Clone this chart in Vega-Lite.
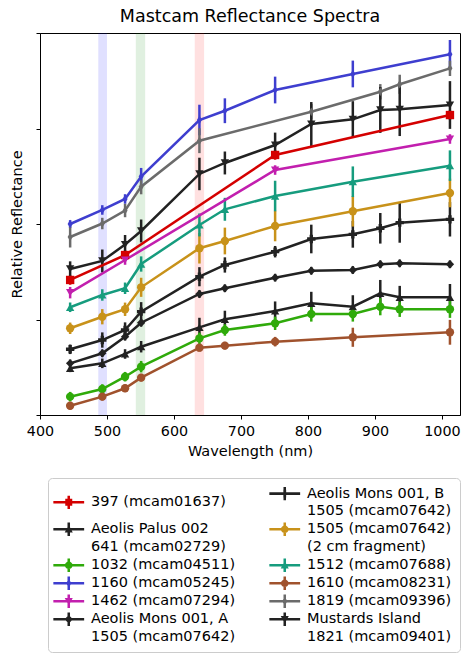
{
  "$schema": "https://vega.github.io/schema/vega-lite/v6.json",
  "autosize": {"type": "none"},
  "padding": {"left": 40, "top": 33, "right": 2, "bottom": 245},
  "width": 420,
  "height": 382,
  "background": "#ffffff",
  "title": {"text": "Mastcam Reflectance Spectra", "fontSize": 17.5, "font": "DejaVu Sans", "fontWeight": "normal", "color": "#000", "anchor": "middle", "offset": 7},
  "datasets": {
    "bands": [
      {"b": "B", "lo": 487, "hi": 500},
      {"b": "G", "lo": 543, "hi": 557},
      {"b": "R", "lo": 631, "hi": 645}
    ],
    "spec": [
      {"s": "397 (mcam01637)", "w": 445, "r": 0.1414, "e": 0.005},
      {"s": "397 (mcam01637)", "w": 527, "r": 0.1675, "e": 0.005},
      {"s": "397 (mcam01637)", "w": 751, "r": 0.2723, "e": 0.005},
      {"s": "397 (mcam01637)", "w": 1012, "r": 0.3141, "e": 0.005},

      {"s": "Aeolis Palus 002\n641 (mcam02729)", "w": 445, "r": 0.0489, "e": 0.004},
      {"s": "Aeolis Palus 002\n641 (mcam02729)", "w": 493, "r": 0.0541, "e": 0.005},
      {"s": "Aeolis Palus 002\n641 (mcam02729)", "w": 527, "r": 0.0639, "e": 0.005},
      {"s": "Aeolis Palus 002\n641 (mcam02729)", "w": 551, "r": 0.0715, "e": 0.006},
      {"s": "Aeolis Palus 002\n641 (mcam02729)", "w": 638, "r": 0.0918, "e": 0.010},
      {"s": "Aeolis Palus 002\n641 (mcam02729)", "w": 676, "r": 0.1002, "e": 0.009},
      {"s": "Aeolis Palus 002\n641 (mcam02729)", "w": 751, "r": 0.1089, "e": 0.010},
      {"s": "Aeolis Palus 002\n641 (mcam02729)", "w": 805, "r": 0.1170, "e": 0.012},
      {"s": "Aeolis Palus 002\n641 (mcam02729)", "w": 867, "r": 0.1134, "e": 0.012},
      {"s": "Aeolis Palus 002\n641 (mcam02729)", "w": 908, "r": 0.1274, "e": 0.014},
      {"s": "Aeolis Palus 002\n641 (mcam02729)", "w": 937, "r": 0.1232, "e": 0.012},
      {"s": "Aeolis Palus 002\n641 (mcam02729)", "w": 1012, "r": 0.1232, "e": 0.014},

      {"s": "1032 (mcam04511)", "w": 445, "r": 0.0192, "e": 0.005},
      {"s": "1032 (mcam04511)", "w": 493, "r": 0.0272, "e": 0.005},
      {"s": "1032 (mcam04511)", "w": 527, "r": 0.0401, "e": 0.005},
      {"s": "1032 (mcam04511)", "w": 551, "r": 0.0506, "e": 0.006},
      {"s": "1032 (mcam04511)", "w": 638, "r": 0.0803, "e": 0.006},
      {"s": "1032 (mcam04511)", "w": 676, "r": 0.0890, "e": 0.006},
      {"s": "1032 (mcam04511)", "w": 751, "r": 0.0960, "e": 0.007},
      {"s": "1032 (mcam04511)", "w": 805, "r": 0.1058, "e": 0.008},
      {"s": "1032 (mcam04511)", "w": 867, "r": 0.1058, "e": 0.008},
      {"s": "1032 (mcam04511)", "w": 908, "r": 0.1134, "e": 0.009},
      {"s": "1032 (mcam04511)", "w": 937, "r": 0.1107, "e": 0.008},
      {"s": "1032 (mcam04511)", "w": 1012, "r": 0.1107, "e": 0.009},

      {"s": "1160 (mcam05245)", "w": 445, "r": 0.2000, "e": 0.004},
      {"s": "1160 (mcam05245)", "w": 493, "r": 0.2147, "e": 0.005},
      {"s": "1160 (mcam05245)", "w": 527, "r": 0.2262, "e": 0.005},
      {"s": "1160 (mcam05245)", "w": 551, "r": 0.2497, "e": 0.009},
      {"s": "1160 (mcam05245)", "w": 638, "r": 0.3089, "e": 0.016},
      {"s": "1160 (mcam05245)", "w": 676, "r": 0.3186, "e": 0.013},
      {"s": "1160 (mcam05245)", "w": 751, "r": 0.3403, "e": 0.014},
      {"s": "1160 (mcam05245)", "w": 867, "r": 0.3571, "e": 0.014},
      {"s": "1160 (mcam05245)", "w": 1012, "r": 0.3777, "e": 0.015},

      {"s": "1462 (mcam07294)", "w": 445, "r": 0.1281, "e": 0.006},
      {"s": "1462 (mcam07294)", "w": 527, "r": 0.1623, "e": 0.005},
      {"s": "1462 (mcam07294)", "w": 751, "r": 0.2565, "e": 0.005},
      {"s": "1462 (mcam07294)", "w": 1012, "r": 0.2890, "e": 0.005},

      {"s": "Aeolis Mons 001, A\n1505 (mcam07642)", "w": 445, "r": 0.0541, "e": 0.004},
      {"s": "Aeolis Mons 001, A\n1505 (mcam07642)", "w": 493, "r": 0.0646, "e": 0.004},
      {"s": "Aeolis Mons 001, A\n1505 (mcam07642)", "w": 527, "r": 0.0820, "e": 0.004},
      {"s": "Aeolis Mons 001, A\n1505 (mcam07642)", "w": 551, "r": 0.0966, "e": 0.004},
      {"s": "Aeolis Mons 001, A\n1505 (mcam07642)", "w": 638, "r": 0.1267, "e": 0.004},
      {"s": "Aeolis Mons 001, A\n1505 (mcam07642)", "w": 676, "r": 0.1327, "e": 0.004},
      {"s": "Aeolis Mons 001, A\n1505 (mcam07642)", "w": 751, "r": 0.1438, "e": 0.004},
      {"s": "Aeolis Mons 001, A\n1505 (mcam07642)", "w": 805, "r": 0.1511, "e": 0.004},
      {"s": "Aeolis Mons 001, A\n1505 (mcam07642)", "w": 867, "r": 0.1518, "e": 0.004},
      {"s": "Aeolis Mons 001, A\n1505 (mcam07642)", "w": 908, "r": 0.1578, "e": 0.004},
      {"s": "Aeolis Mons 001, A\n1505 (mcam07642)", "w": 937, "r": 0.1588, "e": 0.004},
      {"s": "Aeolis Mons 001, A\n1505 (mcam07642)", "w": 1012, "r": 0.1578, "e": 0.004},

      {"s": "Aeolis Mons 001, B\n1505 (mcam07642)", "w": 445, "r": 0.0688, "e": 0.005},
      {"s": "Aeolis Mons 001, B\n1505 (mcam07642)", "w": 493, "r": 0.0785, "e": 0.008},
      {"s": "Aeolis Mons 001, B\n1505 (mcam07642)", "w": 527, "r": 0.0890, "e": 0.008},
      {"s": "Aeolis Mons 001, B\n1505 (mcam07642)", "w": 551, "r": 0.1082, "e": 0.010},
      {"s": "Aeolis Mons 001, B\n1505 (mcam07642)", "w": 638, "r": 0.1448, "e": 0.010},
      {"s": "Aeolis Mons 001, B\n1505 (mcam07642)", "w": 676, "r": 0.1571, "e": 0.008},
      {"s": "Aeolis Mons 001, B\n1505 (mcam07642)", "w": 751, "r": 0.1710, "e": 0.006},
      {"s": "Aeolis Mons 001, B\n1505 (mcam07642)", "w": 805, "r": 0.1843, "e": 0.015},
      {"s": "Aeolis Mons 001, B\n1505 (mcam07642)", "w": 867, "r": 0.1892, "e": 0.014},
      {"s": "Aeolis Mons 001, B\n1505 (mcam07642)", "w": 908, "r": 0.1955, "e": 0.016},
      {"s": "Aeolis Mons 001, B\n1505 (mcam07642)", "w": 937, "r": 0.2014, "e": 0.021},
      {"s": "Aeolis Mons 001, B\n1505 (mcam07642)", "w": 1012, "r": 0.2049, "e": 0.018},

      {"s": "1505 (mcam07642)\n(2 cm fragment)", "w": 445, "r": 0.0908, "e": 0.006},
      {"s": "1505 (mcam07642)\n(2 cm fragment)", "w": 493, "r": 0.1029, "e": 0.008},
      {"s": "1505 (mcam07642)\n(2 cm fragment)", "w": 527, "r": 0.1107, "e": 0.007},
      {"s": "1505 (mcam07642)\n(2 cm fragment)", "w": 551, "r": 0.1337, "e": 0.010},
      {"s": "1505 (mcam07642)\n(2 cm fragment)", "w": 638, "r": 0.1746, "e": 0.016},
      {"s": "1505 (mcam07642)\n(2 cm fragment)", "w": 676, "r": 0.1822, "e": 0.014},
      {"s": "1505 (mcam07642)\n(2 cm fragment)", "w": 751, "r": 0.1979, "e": 0.016},
      {"s": "1505 (mcam07642)\n(2 cm fragment)", "w": 867, "r": 0.2133, "e": 0.016},
      {"s": "1505 (mcam07642)\n(2 cm fragment)", "w": 1012, "r": 0.2325, "e": 0.015},

      {"s": "1512 (mcam07688)", "w": 445, "r": 0.1128, "e": 0.005},
      {"s": "1512 (mcam07688)", "w": 493, "r": 0.1257, "e": 0.006},
      {"s": "1512 (mcam07688)", "w": 527, "r": 0.1327, "e": 0.006},
      {"s": "1512 (mcam07688)", "w": 551, "r": 0.1581, "e": 0.008},
      {"s": "1512 (mcam07688)", "w": 638, "r": 0.1990, "e": 0.012},
      {"s": "1512 (mcam07688)", "w": 676, "r": 0.2154, "e": 0.012},
      {"s": "1512 (mcam07688)", "w": 751, "r": 0.2293, "e": 0.016},
      {"s": "1512 (mcam07688)", "w": 867, "r": 0.2443, "e": 0.016},
      {"s": "1512 (mcam07688)", "w": 1012, "r": 0.2611, "e": 0.016},

      {"s": "1610 (mcam08231)", "w": 445, "r": 0.0097, "e": 0.004},
      {"s": "1610 (mcam08231)", "w": 493, "r": 0.0192, "e": 0.004},
      {"s": "1610 (mcam08231)", "w": 527, "r": 0.0280, "e": 0.004},
      {"s": "1610 (mcam08231)", "w": 551, "r": 0.0391, "e": 0.004},
      {"s": "1610 (mcam08231)", "w": 638, "r": 0.0705, "e": 0.004},
      {"s": "1610 (mcam08231)", "w": 676, "r": 0.0726, "e": 0.004},
      {"s": "1610 (mcam08231)", "w": 751, "r": 0.0768, "e": 0.005},
      {"s": "1610 (mcam08231)", "w": 867, "r": 0.0814, "e": 0.010},
      {"s": "1610 (mcam08231)", "w": 1012, "r": 0.0866, "e": 0.013},

      {"s": "1819 (mcam09396)", "w": 445, "r": 0.1864, "e": 0.011},
      {"s": "1819 (mcam09396)", "w": 493, "r": 0.2005, "e": 0.006},
      {"s": "1819 (mcam09396)", "w": 527, "r": 0.2141, "e": 0.007},
      {"s": "1819 (mcam09396)", "w": 551, "r": 0.2391, "e": 0.008},
      {"s": "1819 (mcam09396)", "w": 638, "r": 0.2872, "e": 0.013},
      {"s": "1819 (mcam09396)", "w": 805, "r": 0.3176, "e": 0.008},
      {"s": "1819 (mcam09396)", "w": 908, "r": 0.3385, "e": 0.008},
      {"s": "1819 (mcam09396)", "w": 937, "r": 0.3463, "e": 0.010},
      {"s": "1819 (mcam09396)", "w": 1012, "r": 0.3630, "e": 0.008},

      {"s": "Mustards Island\n1821 (mcam09401)", "w": 445, "r": 0.1529, "e": 0.008},
      {"s": "Mustards Island\n1821 (mcam09401)", "w": 493, "r": 0.1613, "e": 0.012},
      {"s": "Mustards Island\n1821 (mcam09401)", "w": 527, "r": 0.1785, "e": 0.010},
      {"s": "Mustards Island\n1821 (mcam09401)", "w": 551, "r": 0.1927, "e": 0.012},
      {"s": "Mustards Island\n1821 (mcam09401)", "w": 638, "r": 0.2524, "e": 0.017},
      {"s": "Mustards Island\n1821 (mcam09401)", "w": 676, "r": 0.2639, "e": 0.012},
      {"s": "Mustards Island\n1821 (mcam09401)", "w": 751, "r": 0.2827, "e": 0.013},
      {"s": "Mustards Island\n1821 (mcam09401)", "w": 805, "r": 0.3047, "e": 0.023},
      {"s": "Mustards Island\n1821 (mcam09401)", "w": 867, "r": 0.3096, "e": 0.019},
      {"s": "Mustards Island\n1821 (mcam09401)", "w": 908, "r": 0.3194, "e": 0.024},
      {"s": "Mustards Island\n1821 (mcam09401)", "w": 937, "r": 0.3201, "e": 0.028},
      {"s": "Mustards Island\n1821 (mcam09401)", "w": 1012, "r": 0.3246, "e": 0.025}
    ]
  },
  "layer": [
    {
      "data": {"name": "bands"},
      "transform": [{"filter": "datum.b == 'B'"}],
      "mark": {"type": "rect", "color": "#0000ff", "opacity": 0.12},
      "encoding": {
        "x": {"field": "lo", "type": "quantitative", "title": "Wavelength (nm)", "scale": {"domain": [400, 1027], "nice": false, "zero": false}, "axis": {"values": [400, 500, 600, 700, 800, 900, 1000], "format": "d", "labelFlush": false, "title": "Wavelength (nm)", "titlePadding": 6, "labelPadding": 5}},
        "x2": {"field": "hi"}
      }
    },
    {
      "data": {"name": "bands"},
      "transform": [{"filter": "datum.b == 'G'"}],
      "mark": {"type": "rect", "color": "#008000", "opacity": 0.12},
      "encoding": {
        "x": {"field": "lo", "type": "quantitative", "title": "Wavelength (nm)", "scale": {"domain": [400, 1027], "nice": false, "zero": false}, "axis": {"values": [400, 500, 600, 700, 800, 900, 1000], "format": "d", "labelFlush": false, "title": "Wavelength (nm)", "titlePadding": 6, "labelPadding": 5}},
        "x2": {"field": "hi"}
      }
    },
    {
      "data": {"name": "bands"},
      "transform": [{"filter": "datum.b == 'R'"}],
      "mark": {"type": "rect", "color": "#ff0000", "opacity": 0.12},
      "encoding": {
        "x": {"field": "lo", "type": "quantitative", "title": "Wavelength (nm)", "scale": {"domain": [400, 1027], "nice": false, "zero": false}, "axis": {"values": [400, 500, 600, 700, 800, 900, 1000], "format": "d", "labelFlush": false, "title": "Wavelength (nm)", "titlePadding": 6, "labelPadding": 5}},
        "x2": {"field": "hi"}
      }
    },
    {
      "data": {"name": "spec"},
      "encoding": {
        "x": {"field": "w", "type": "quantitative", "title": "Wavelength (nm)", "scale": {"domain": [400, 1027], "nice": false, "zero": false}, "axis": {"values": [400, 500, 600, 700, 800, 900, 1000], "format": "d", "labelFlush": false, "title": "Wavelength (nm)", "titlePadding": 6, "labelPadding": 5}},
        "y": {"field": "r", "type": "quantitative", "title": "Relative Reflectance", "scale": {"domain": [0, 0.4], "nice": false}, "axis": {"values": [0, 0.1, 0.2, 0.3, 0.4], "labels": false, "title": "Relative Reflectance", "titlePadding": 11}},
        "color": {
          "field": "s", "type": "nominal", "title": null,
          "legend": null,
          "scale": {
            "domain": ["397 (mcam01637)", "Aeolis Palus 002\n641 (mcam02729)", "1032 (mcam04511)", "1160 (mcam05245)", "1462 (mcam07294)", "Aeolis Mons 001, A\n1505 (mcam07642)", "Aeolis Mons 001, B\n1505 (mcam07642)", "1505 (mcam07642)\n(2 cm fragment)", "1512 (mcam07688)", "1610 (mcam08231)", "1819 (mcam09396)", "Mustards Island\n1821 (mcam09401)"],
            "range": ["#d40000", "#222222", "#2faa0a", "#3e3ecf", "#c21fae", "#222222", "#222222", "#c8921a", "#169c7e", "#a0522d", "#6b6b6b", "#222222"]
          }
        }
      },
      "layer": [
        {
          "mark": {"type": "errorbar", "thickness": 2.5},
          "encoding": {"yError": {"field": "e"}}
        },
        {
          "mark": {"type": "line", "strokeWidth": 2.5}
        },
        {
          "mark": {"type": "point", "filled": true, "opacity": 1, "size": 70},
          "encoding": {
            "shape": {
              "field": "s", "type": "nominal", "title": null,
              "legend": null,
              "scale": {
                "domain": ["397 (mcam01637)", "Aeolis Palus 002\n641 (mcam02729)", "1032 (mcam04511)", "1160 (mcam05245)", "1462 (mcam07294)", "Aeolis Mons 001, A\n1505 (mcam07642)", "Aeolis Mons 001, B\n1505 (mcam07642)", "1505 (mcam07642)\n(2 cm fragment)", "1512 (mcam07688)", "1610 (mcam08231)", "1819 (mcam09396)", "Mustards Island\n1821 (mcam09401)"],
                "range": ["square", "triangle-up", "circle", "M0,-1L0.6,0L0,1L-0.6,0Z", "triangle-down", "diamond", "cross", "circle", "triangle-up", "circle", "M0,-1L0.6,0L0,1L-0.6,0Z", "triangle-down"]
              }
            }
          }
        },
        {
          "transform": [{"filter": "datum.w < 0"}],
          "mark": {"type": "point", "filled": true, "opacity": 1, "size": 49},
          "encoding": {
            "fill": {
              "field": "s", "type": "nominal", "title": null,
              "legend": {
                "labelExpr": "split(datum.label, '\\n')", "columns": 2, "orient": "none", "legendX": 8, "legendY": 445,
                "encode": {"labels": {"update": {"lineHeight": {"value": 17.5}}}}
              },
              "scale": {
                "domain": ["397 (mcam01637)", "Aeolis Palus 002\n641 (mcam02729)", "1032 (mcam04511)", "1160 (mcam05245)", "1462 (mcam07294)", "Aeolis Mons 001, A\n1505 (mcam07642)", "Aeolis Mons 001, B\n1505 (mcam07642)", "1505 (mcam07642)\n(2 cm fragment)", "1512 (mcam07688)", "1610 (mcam08231)", "1819 (mcam09396)", "Mustards Island\n1821 (mcam09401)"],
                "range": ["#d40000", "#222222", "#2faa0a", "#3e3ecf", "#c21fae", "#222222", "#222222", "#c8921a", "#169c7e", "#a0522d", "#6b6b6b", "#222222"]
              }
            },
            "shape": {
              "field": "s", "type": "nominal", "title": null,
              "legend": {
                "labelExpr": "split(datum.label, '\\n')", "columns": 2, "orient": "none", "legendX": 8, "legendY": 445,
                "encode": {"labels": {"update": {"lineHeight": {"value": 17.5}}}}
              },
              "scale": {
                "domain": ["397 (mcam01637)", "Aeolis Palus 002\n641 (mcam02729)", "1032 (mcam04511)", "1160 (mcam05245)", "1462 (mcam07294)", "Aeolis Mons 001, A\n1505 (mcam07642)", "Aeolis Mons 001, B\n1505 (mcam07642)", "1505 (mcam07642)\n(2 cm fragment)", "1512 (mcam07688)", "1610 (mcam08231)", "1819 (mcam09396)", "Mustards Island\n1821 (mcam09401)"],
                "range": [
                  "M-4.4,-0.36H4.4V0.36H-4.4ZM-0.36,-1.9H0.36V1.9H-0.36ZM-1,-1H1V1H-1Z",
                  "M-4.4,-0.36H4.4V0.36H-4.4ZM-0.36,-1.9H0.36V1.9H-0.36ZM0,-1.2L1.15,0.9L-1.15,0.9Z",
                  "M-4.4,-0.36H4.4V0.36H-4.4ZM-0.36,-1.9H0.36V1.9H-0.36ZM-1.1,0A1.1,1.1,0,1,1,1.1,0A1.1,1.1,0,1,1,-1.1,0Z",
                  "M-4.4,-0.36H4.4V0.36H-4.4ZM-0.36,-1.9H0.36V1.9H-0.36ZM0,-1.3L0.75,0L0,1.3L-0.75,0Z",
                  "M-4.4,-0.36H4.4V0.36H-4.4ZM-0.36,-1.9H0.36V1.9H-0.36ZM-1.15,-0.9L1.15,-0.9L0,1.2Z",
                  "M-4.4,-0.36H4.4V0.36H-4.4ZM-0.36,-1.9H0.36V1.9H-0.36ZM0,-1.2L1.2,0L0,1.2L-1.2,0Z",
                  "M-4.4,-0.36H4.4V0.36H-4.4ZM-0.36,-1.9H0.36V1.9H-0.36ZM-0.4,-1.1H0.4V-0.4H1.1V0.4H0.4V1.1H-0.4V0.4H-1.1V-0.4H-0.4Z",
                  "M-4.4,-0.36H4.4V0.36H-4.4ZM-0.36,-1.9H0.36V1.9H-0.36ZM-1.1,0A1.1,1.1,0,1,1,1.1,0A1.1,1.1,0,1,1,-1.1,0Z",
                  "M-4.4,-0.36H4.4V0.36H-4.4ZM-0.36,-1.9H0.36V1.9H-0.36ZM0,-1.2L1.15,0.9L-1.15,0.9Z",
                  "M-4.4,-0.36H4.4V0.36H-4.4ZM-0.36,-1.9H0.36V1.9H-0.36ZM-1.1,0A1.1,1.1,0,1,1,1.1,0A1.1,1.1,0,1,1,-1.1,0Z",
                  "M-4.4,-0.36H4.4V0.36H-4.4ZM-0.36,-1.9H0.36V1.9H-0.36ZM0,-1.3L0.75,0L0,1.3L-0.75,0Z",
                  "M-4.4,-0.36H4.4V0.36H-4.4ZM-0.36,-1.9H0.36V1.9H-0.36ZM-1.15,-0.9L1.15,-0.9L0,1.2Z"
                ]
              }
            }
          }
        }
      ],
      "resolve": {"scale": {"shape": "independent", "fill": "independent"}}
    }
  ],
  "config": {
    "font": "DejaVu Sans",
    "view": {"stroke": "#000000", "strokeWidth": 1},
    "axis": {"labelFont": "DejaVu Sans", "titleFont": "DejaVu Sans", "labelFontSize": 14.3, "titleFontSize": 14.5, "labelColor": "#000", "titleColor": "#000", "titleFontWeight": "normal", "domainColor": "#000", "tickColor": "#000", "grid": false, "tickSize": 4},
    "legend": {
      "labelFont": "DejaVu Sans", "labelFontSize": 14.5, "labelColor": "#000", "labelLimit": 300,
      "strokeColor": "#cccccc", "cornerRadius": 4, "padding": 8, "fillColor": "#ffffff",
      "symbolSize": 49, "rowPadding": 3, "columnPadding": 33, "labelOffset": 15, "symbolOffset": 5.5, "symbolStrokeWidth": 0, "symbolOpacity": 1
    }
  }
}
